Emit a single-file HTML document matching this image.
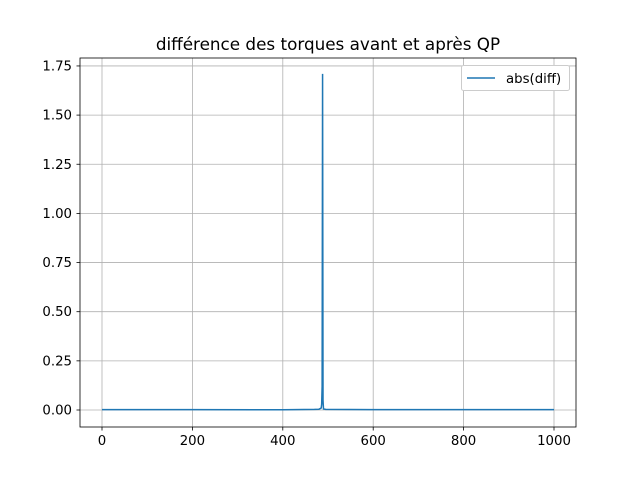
<!DOCTYPE html>
<html><head><meta charset="utf-8"><style>body{margin:0;background:#fff}svg{display:block;font-family:"DejaVu Sans","Liberation Sans",sans-serif}</style></head>
<body>
<svg id="chart" width="640" height="480">
<rect width="640" height="480" fill="#fff"/>
<text x="328" y="50" font-size="16.8" text-anchor="middle">différence des torques avant et après QP</text>
<g id="grid"></g>
<g id="ticks"></g>
<path id="line" fill="none" stroke="#1f77b4" stroke-width="1.5"/>
<rect x="80" y="58" width="496" height="369" fill="none" stroke="#000" stroke-width="0.8"/>
<g>
<rect x="461.5" y="65.5" width="108" height="25" rx="2" fill="#fff" stroke="#ccc"/>
<line x1="467" y1="78" x2="495" y2="78" stroke="#1f77b4" stroke-width="1.5"/>
<text x="506" y="83" font-size="13.3">abs(diff)</text>
</g>
</svg>
<script>
const xVals=[0,200,400,470,480,485,486,487,488,489,490,495,600,800,1000];
const yVals=[0.002,0.002,0.001,0.003,0.004,0.01,0.03,0.12,1.71,0.05,0.005,0.003,0.002,0.002,0.002];
const xTicks=[0,200,400,600,800,1000];
const yTicks=[0,0.25,0.5,0.75,1.0,1.25,1.5,1.75];
const yLabels=["0.00","0.25","0.50","0.75","1.00","1.25","1.50","1.75"];
const X=v=>102+v*0.452, Y=v=>410-v*196.6;
const NS="http://www.w3.org/2000/svg";
const grid=document.getElementById('grid'), ticks=document.getElementById('ticks');
function mk(t,a,p){const e=document.createElementNS(NS,t);for(const k in a)e.setAttribute(k,a[k]);p.appendChild(e);return e;}
xTicks.forEach(v=>{const x=X(v);
const g=mk('line',{x1:x,x2:x,y1:58,y2:427,stroke:'#b0b0b0','stroke-width':0.8},grid);


mk('line',{x1:x,x2:x,y1:427,y2:430.5,stroke:'#000','stroke-width':0.8},ticks);
const t=mk('text',{x:x,y:445,'font-size':13.3,'text-anchor':'middle'},ticks);t.textContent=v;

});
yTicks.forEach((v,i)=>{const y=Y(v);
const g=mk('line',{x1:80,x2:576,y1:y,y2:y,stroke:'#b0b0b0','stroke-width':0.8},grid);


mk('line',{x1:76.5,x2:80,y1:y,y2:y,stroke:'#000','stroke-width':0.8},ticks);
const t=mk('text',{x:72,y:y+4.5,'font-size':13.3,'text-anchor':'end'},ticks);t.textContent=yLabels[i];

});
document.getElementById('line').setAttribute('d',xVals.map((v,i)=>(i?'L':'M')+X(v)+','+Y(yVals[i])).join(''));
</script>
</body></html>
